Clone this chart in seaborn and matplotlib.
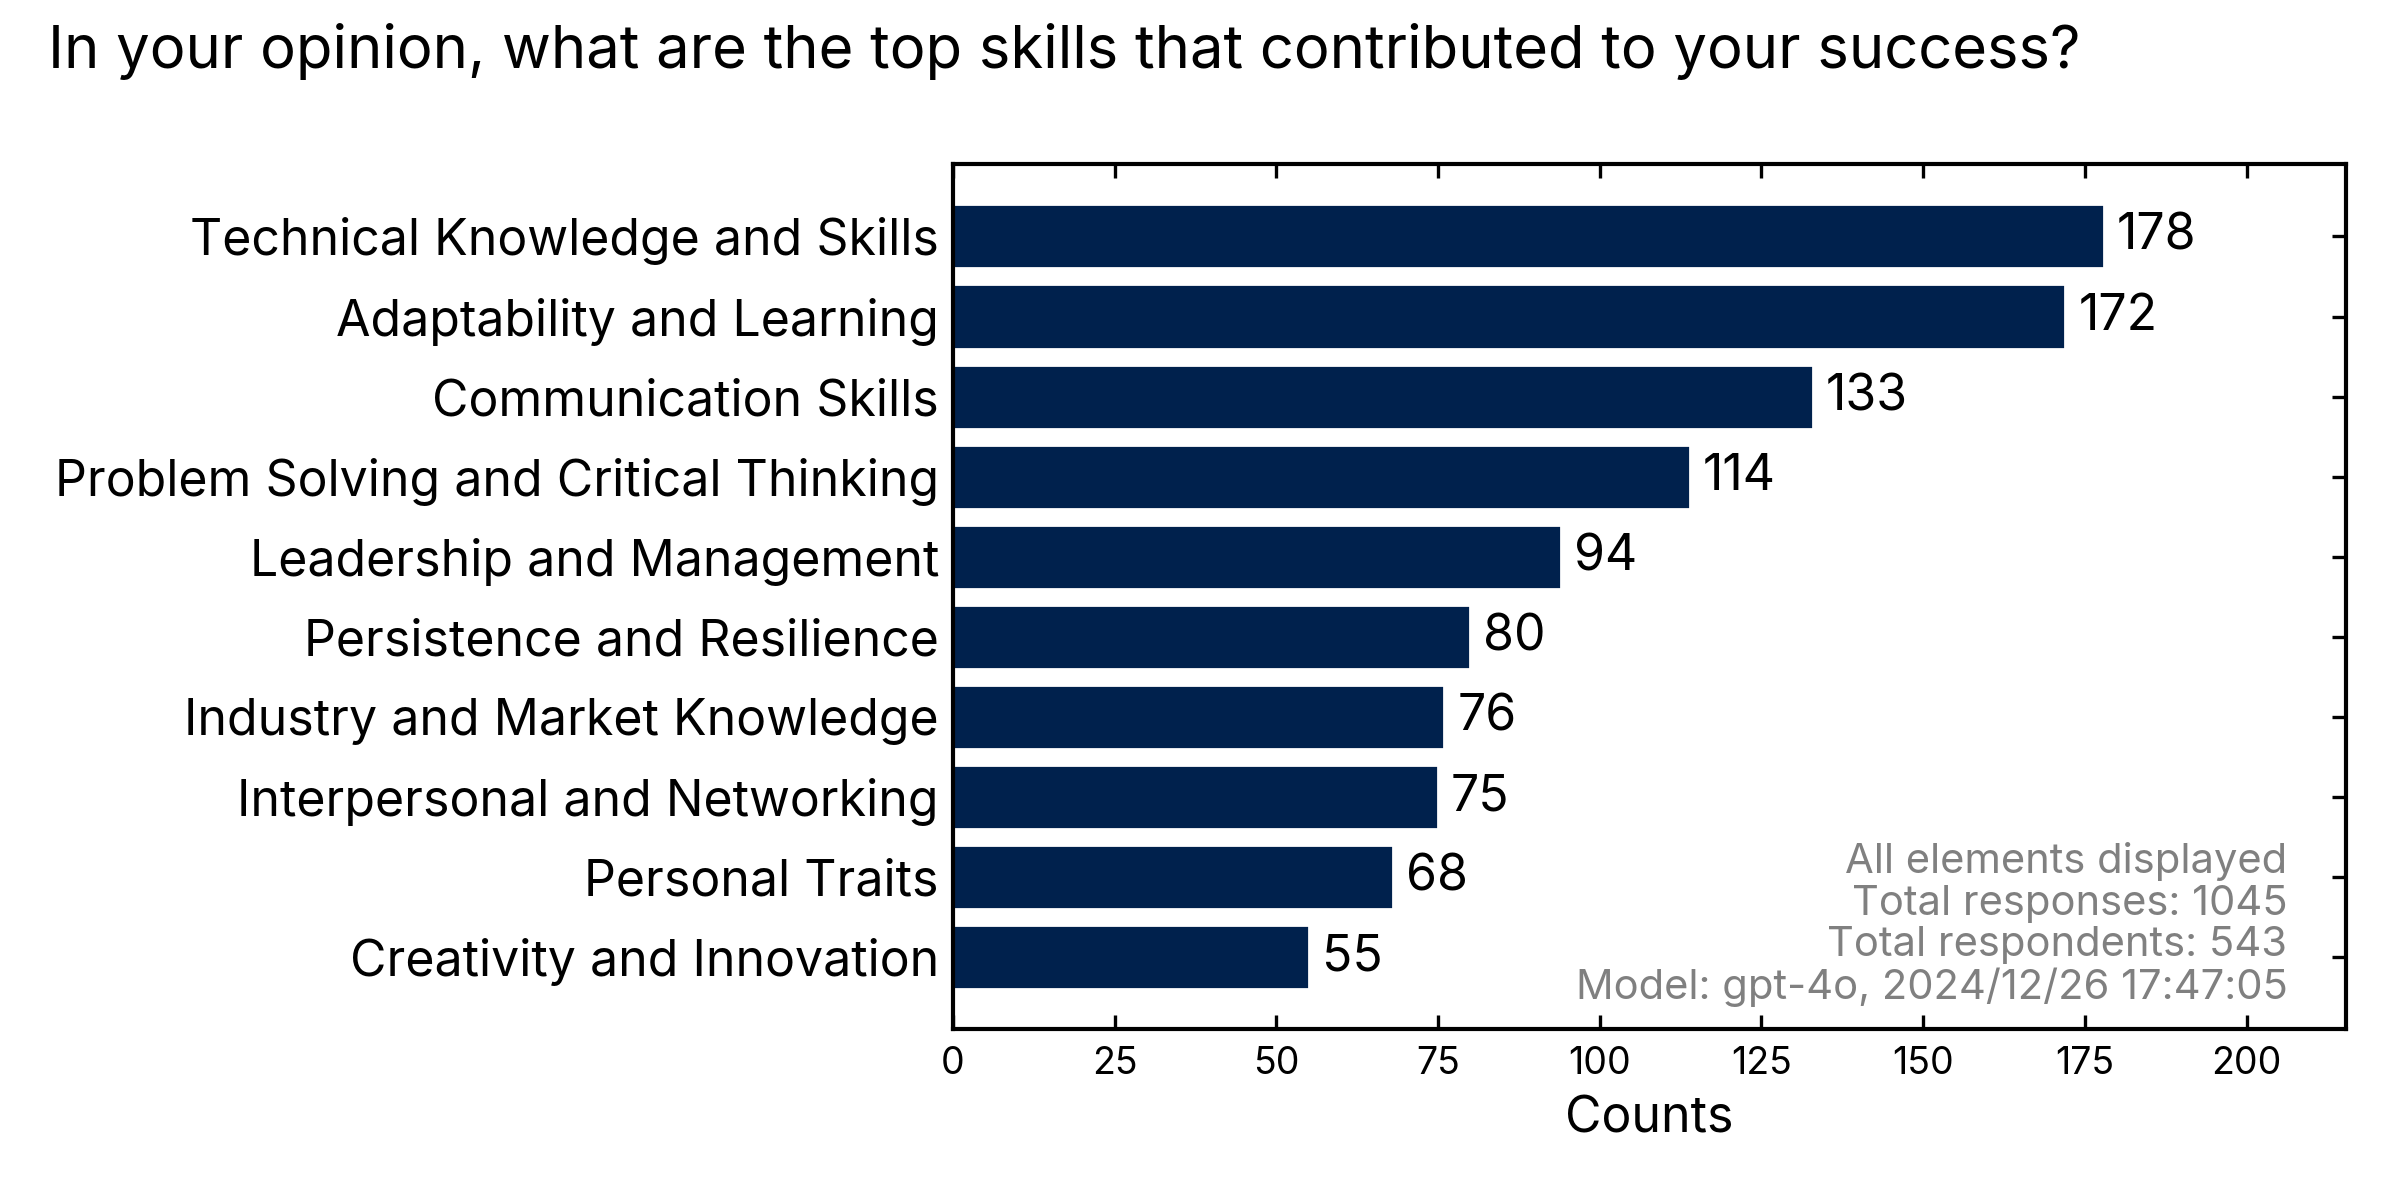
import matplotlib
matplotlib.use("Agg")
import matplotlib.pyplot as plt
import seaborn as sns
import pandas as pd

# data
skills = [
    "Technical Knowledge and Skills",
    "Adaptability and Learning",
    "Communication Skills",
    "Problem Solving and Critical Thinking",
    "Leadership and Management",
    "Persistence and Resilience",
    "Industry and Market Knowledge",
    "Interpersonal and Networking",
    "Personal Traits",
    "Creativity and Innovation",
]
counts = [178, 172, 133, 114, 94, 80, 76, 75, 68, 55]
title = "In your opinion, what are the top skills that contributed to your success?"
note_lines = [
    "All elements displayed",
    "Total responses: 1045",
    "Total respondents: 543",
    "Model: gpt-4o, 2024/12/26 17:47:05",
]

df = pd.DataFrame({"skill": skills, "count": counts})

sns.set_style("white")
plt.rcParams["font.family"] = ["Inter", "DejaVu Sans"]
plt.rcParams["text.color"] = "black"
plt.rcParams["axes.labelcolor"] = "black"
plt.rcParams["xtick.color"] = "black"
plt.rcParams["ytick.color"] = "black"

fig = plt.figure(figsize=(12, 6), dpi=200)
ax = fig.add_axes([0.397, 0.1425, 0.5805, 0.7205])

sns.barplot(data=df, x="count", y="skill", orient="h", color="#00214d",
            saturation=1, width=0.8, ax=ax)

for i, v in enumerate(counts):
    ax.text(v + 2.0, i, str(v), va="center", ha="left", fontsize=18, color="black")

ax.set_xlim(0, max(counts) * 1.21)
ax.set_ylim(len(skills) - 0.1, -0.9)
ax.set_xticks([0, 25, 50, 75, 100, 125, 150, 175, 200])
ax.set_xlabel("Counts", fontsize=18, labelpad=5)
ax.set_ylabel("")
ax.tick_params(axis="y", labelsize=18, pad=5)
ax.tick_params(axis="x", labelsize=13.5, pad=6)
ax.tick_params(direction="in", length=5, width=1.2, top=True, right=True,
               left=True, bottom=True, color="black")
for s in ax.spines.values():
    s.set_visible(True)
    s.set_linewidth(1.5)
    s.set_color("black")

ax.text(0.958, 0.025, "\n".join(note_lines), transform=ax.transAxes,
        ha="right", va="bottom", fontsize=15, color="#808080", linespacing=1.12)

fig.text(0.02, 0.957, title, fontsize=21.5, ha="left", va="center")

fig.savefig("out.png", dpi=200)
